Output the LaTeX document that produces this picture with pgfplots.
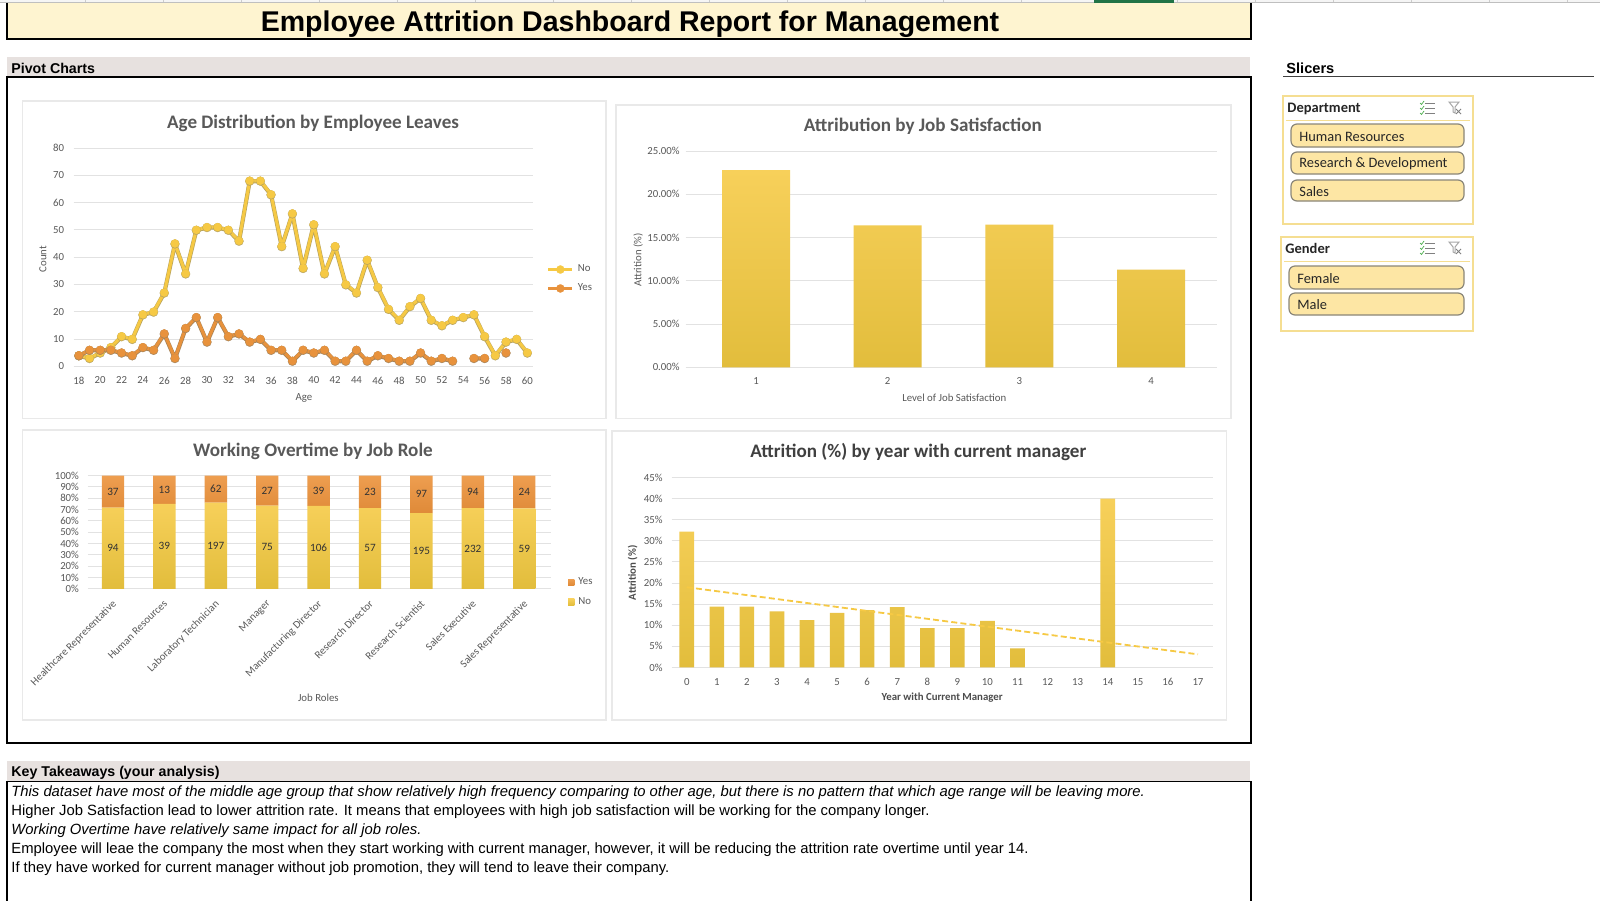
\documentclass[border=0pt]{standalone}
\usepackage{fontspec}
\usepackage{pgfplots}
\usepackage{pgfplotstable}
\pgfplotsset{compat=1.18}
\setmainfont{Carlito}
\newfontfamily\arial{Liberation Sans}
\newcommand{\fs}[1]{\fontsize{#1}{#1}\selectfont}
\definecolor{txt}{HTML}{595959}
\definecolor{ylw}{HTML}{F6C944}
\definecolor{org}{HTML}{E8923C}
\definecolor{ylws}{HTML}{B9A45E}
\definecolor{orgs}{HTML}{A88458}
\definecolor{gridc}{HTML}{E2E2E2}
\definecolor{framec}{HTML}{E9E9E9}
\definecolor{strip}{HTML}{E7E1DF}
\definecolor{banner}{HTML}{FEF4D0}
\definecolor{slb}{HTML}{F5DE92}
\definecolor{slf}{HTML}{FDE6A4}
\definecolor{slg}{HTML}{8A8678}
\definecolor{xlgreen}{HTML}{217346}
\pgfplotstableread{
age no yes
18 4 4
19 3 6
20 5 6
21 7 6
22 11 5
23 10 4
24 19 7
25 20 6
26 27 12
27 45 3
28 34 14
29 50 18
30 51 9
31 51 18
32 50 11
33 46 12
34 68 9
35 68 10
36 63 6
37 44 6
38 56 2
39 36 6
40 52 5
41 34 6
42 44 2
43 30 2
44 27 6
45 39 2
46 29 4
47 21 3
48 17 2
49 22 2
50 25 5
51 17 2
52 15 3
53 17 2
54 18 nan
55 19 3
56 11 3
57 4 nan
58 9 5
59 10 nan
60 5 nan
}\agetable
\pgfplotstableread{
x no yes
0 71.76 28.24
1 75.00 25.00
2 76.06 23.94
3 73.53 26.47
4 73.10 26.90
5 71.25 28.75
6 66.78 33.22
7 71.17 28.83
8 71.08 28.92
}\roletable
\pgfplotstableread{
x y c
0 35.88 94
1 37.50 39
2 38.03 197
3 36.77 75
4 36.55 106
5 35.63 57
6 33.39 195
7 35.59 232
8 35.54 59
0 85.88 37
1 87.50 13
2 88.03 62
3 86.77 27
4 86.55 39
5 85.63 23
6 83.39 97
7 85.59 94
8 85.54 24
}\rolelabels
\pgfplotsset{
  dash/.style={
    scale only axis, axis line style={draw=none},
    major tick length=0pt, ymajorgrids,
    grid style={gridc,line width=0.5pt},
    /pgf/number format/assume math mode=true,
    tick label style={font=\fs{5.4},text=txt},
    every axis title shift=0pt,
    title style={font=\bfseries\fs{9.55},text=txt,anchor=center},
    label style={font=\fs{5.4},text=txt,anchor=center},
  },
  ybar fill/.style={draw=none,top color=ylwt,middle color=ylwm,bottom color=ylwb},
}
\definecolor{ylwt}{HTML}{F7D05A}
\definecolor{ylwm}{HTML}{F9CF48}
\definecolor{ylwb}{HTML}{E2BD3C}
\definecolor{orgt}{HTML}{EE9E50}
\definecolor{orgb}{HTML}{DF8A38}
\begin{document}
\begin{tikzpicture}[x=0.5pt,y=-0.5pt]
\path[use as bounding box] (0,0) rectangle (1600,900);
\fill[white] (0,0) rectangle (1600,900);
% sheet header
\fill[gray!8] (0,0) rectangle (1600,2);
\draw[gray!50,line width=0.4pt] (0,2.2)--(1600,2.2);
\foreach \k in {0,...,19}{\draw[gray!40,line width=0.3pt] ({85.4+78*\k},0)--({85.4+78*\k},2);}
\fill[xlgreen] (1094,0) rectangle (1174,3);
% banner
\fill[banner] (7,3) rectangle (1251,39);
\draw[black,line width=0.6pt] (7,3)--(7,39)--(1251,39)--(1251,3);
\node[anchor=center,font=\arial\bfseries\fs{14.26}] at (630,24) {Employee Attrition Dashboard Report for Management};
% pivot section
\fill[strip] (7,57) rectangle (1250,76);
\node[anchor=west,inner sep=0pt,font=\arial\bfseries\fs{7.1}] at (11,68) {Pivot Charts};
\draw[black,line width=0.8pt] (7,77) rectangle (1251,743);
% key takeaways
\fill[strip] (7,761) rectangle (1250,781);
\node[anchor=west,inner sep=0pt,font=\arial\bfseries\fs{7.1}] at (11,773) {Key Takeaways (your analysis)};
\draw[black,line width=0.8pt] (7,781.5) rectangle (1251,905);
\begin{scope}[every node/.style={anchor=west,inner sep=0pt,font=\arial\fs{7.41}}]
\node at (11,793) {\itshape This dataset have most of the middle age group that show relatively high frequency comparing to other age, but there is no pattern that which age range will be leaving more.};
\node at (11,812) {Higher Job Satisfaction lead to lower attrition rate. It means that employees with high job satisfaction will be working for the company longer.};
\node at (11,831) {\itshape Working Overtime have relatively same impact for all job roles.};
\node at (11,850) {Employee will leae the company the most when they start working with current manager, however, it will be reducing the attrition rate overtime until year 14.};
\node at (11,869) {If they have worked for current manager without job promotion, they will tend to leave their company.};
\end{scope}
% slicers
\node[anchor=west,inner sep=0pt,font=\arial\bfseries\fs{7.3}] at (1286,68) {Slicers};
\draw[black!75,line width=0.7pt] (1283,76.5)--(1594,76.5);
\newcommand{\slbutton}[4]{%
 \filldraw[fill=slf,draw=slg,line width=0.6pt,rounded corners=3pt] (#1,#2) rectangle (1464,#3);
 \node[anchor=west,inner sep=0pt,font=\fs{7.2},text=black!85] at (#1+8,{(#2+#3)/2+1}) {#4};}
\newcommand{\slicon}[1]{%
 \begin{scope}[shift={(0,#1)}]
 \draw[gray,line width=0.4pt] (1425,-5)--(1435,-5) (1425,0)--(1435,0) (1425,5)--(1435,5);
 \draw[green!55!black!70,line width=0.35pt] (1420,-5)--(1421.5,-3.5)--(1424,-7) (1420,0)--(1421.5,1.5)--(1424,-2) (1420,5)--(1421.5,6.5)--(1424,3);
 \draw[gray!70,line width=0.5pt] (1449,-6)--(1459,-6)--(1455,-1)--(1455,5)--(1453,4)--(1453,-1)--cycle;
 \draw[gray,line width=0.5pt] (1456,1)--(1461,6) (1461,1)--(1456,6);
 \end{scope}}
\draw[slb,line width=0.6pt] (1283,96) rectangle (1473,224);
\node[anchor=west,inner sep=0pt,font=\bfseries\fs{7.25},text=black!85] at (1287,109) {Department};
\slicon{108}
\draw[slb,line width=0.5pt] (1286,120)--(1470,120);
\slbutton{1291}{124}{147}{Human Resources}
\slbutton{1291}{152}{174}{Research \& Development}
\slbutton{1291}{180}{201}{Sales}
\draw[slb,line width=0.6pt] (1281,237) rectangle (1473,331);
\node[anchor=west,inner sep=0pt,font=\bfseries\fs{7.25},text=black!85] at (1285,248) {Gender};
\slicon{248}
\draw[slb,line width=0.5pt] (1284,261)--(1470,261);
\slbutton{1289}{266}{289}{Female}
\slbutton{1289}{293}{315}{Male}
% chart frames
\draw[framec,line width=0.7pt] (22.5,101) rectangle (606,418.5);
\draw[framec,line width=0.7pt] (616,105) rectangle (1231,418.5);
\draw[framec,line width=0.7pt] (22.5,430) rectangle (606,720);
\draw[framec,line width=0.7pt] (612,431) rectangle (1226.5,720);

% ---- chart 1
\begin{axis}[dash,at={(36.75pt,-183.15pt)},anchor=south west,width=229.6pt,height=109.15pt,
  xmin=17.5,xmax=60.5,ymin=0,ymax=80,
  xtick={18,20,...,60},ytick={0,10,...,80},
  title={Age Distribution by Employee Leaves},
  title style={at={(axis description cs:0.5216,1.112)}},
  xlabel={Age},xlabel style={at={(axis description cs:0.502,-0.145)}},
  ylabel={Count},ylabel style={at={(axis description cs:-0.0666,0.4915)}},
  xticklabel style={yshift=-1.7pt},yticklabel style={xshift=-1.2pt},
  unbounded coords=jump,
  legend style={at={(1.03,0.40)},anchor=west,draw=none,fill=none,font=\fs{5.4},text=txt,
     inner sep=0pt,row sep=0.5pt,/tikz/every even column/.append style={column sep=1pt}},
  legend cell align=left,
  legend image code/.code={\draw[#1,mark repeat=2,mark phase=2] plot coordinates {(0pt,0pt)(6pt,0pt)(12pt,0pt)};},
]
\addplot[forget plot,ylws,line width=2.1pt,line join=round,mark=*,mark size=2.25pt,mark options={line width=0.1pt,draw=ylws,fill=ylws},yshift=-0.2pt] table[x=age,y=no] {\agetable};
\addplot[ylw,line width=1.5pt,line join=round,mark=*,mark size=2.05pt,mark options={line width=0.1pt,draw=ylw,fill=ylw}] table[x=age,y=no] {\agetable};
\addlegendentry{No}
\addplot[forget plot,orgs,line width=2.1pt,line join=round,mark=*,mark size=2.25pt,mark options={line width=0.1pt,draw=orgs,fill=orgs},yshift=-0.2pt] table[x=age,y=yes] {\agetable};
\addplot[org,line width=1.5pt,line join=round,mark=*,mark size=2.05pt,mark options={line width=0.1pt,draw=org,fill=org}] table[x=age,y=yes] {\agetable};
\addlegendentry{Yes}
\end{axis}

% ---- chart 2
\begin{axis}[dash,at={(342.85pt,-183.65pt)},anchor=south west,width=265.8pt,height=108.15pt,
  xmin=0.466,xmax=4.503,ymin=0,ymax=25,
  xtick={1,2,3,4},ytick={0,5,10,15,20,25},
  yticklabels={0.00\%,5.00\%,10.00\%,15.00\%,20.00\%,25.00\%},
  title={Attribution by Job Satisfaction},
  title style={at={(axis description cs:0.446,1.113)}},
  xlabel={Level of Job Satisfaction},xlabel style={at={(axis description cs:0.5052,-0.141)}},
  ylabel={Attrition (\%)},ylabel style={at={(axis description cs:-0.0895,0.4957)}},
  xticklabel style={yshift=-1.7pt},yticklabel style={xshift=0.5pt},
]
\addplot[ybar,bar width=34pt,ybar fill] coordinates {(1,22.8)(2,16.4)(3,16.5)(4,11.3)};
\end{axis}

% ---- chart 3
\begin{axis}[dash,at={(44pt,-294.4pt)},anchor=south west,width=231.5pt,height=56.65pt,
  ybar stacked,bar width=11.2pt,
  xmin=-0.486,xmax=8.52,ymin=0,ymax=100,
  xtick={0,...,8},ytick={0,10,...,100},
  yticklabel={\pgfmathprintnumber{\tick}\%},
  yticklabel style={xshift=-1pt},
  xticklabels={Healthcare Representative,Human Resources,Laboratory Technician,Manager,Manufacturing Director,Research Director,Research Scientist,Sales Executive,Sales Representative},
  xticklabel style={rotate=45,anchor=north east,inner sep=1pt,yshift=-2pt,xshift=-3.05pt},
  title={Working Overtime by Job Role},
  title style={at={(axis description cs:0.486,1.216)}},
  xlabel={Job Roles},xlabel style={at={(axis description cs:0.4975,-0.965)}},
  legend style={at={(1.036,-0.03)},anchor=west,draw=none,fill=none,font=\fs{5.4},text=txt,
     inner sep=0pt,row sep=1pt},
  legend cell align=left,reverse legend,
  legend image code/.code={\fill[#1] (0pt,-1.6pt) rectangle (3.2pt,1.6pt);},
]
\addplot[ybar fill] table[x=x,y=no] {\roletable};
\addlegendentry{No}
\addplot[draw=none,top color=orgt,bottom color=orgb] table[x=x,y=yes] {\roletable};
\addlegendentry{Yes}
\end{axis}
\begin{axis}[at={(44pt,-294.4pt)},anchor=south west,scale only axis,width=231.5pt,height=56.65pt,
  xmin=-0.486,xmax=8.52,ymin=0,ymax=100,hide axis,clip=false]
\addplot[only marks,mark=none,nodes near coords,point meta=explicit symbolic,
  every node near coord/.append style={anchor=center,font=\fs{5.6},text=black!80,inner sep=0pt}]
  table[x=x,y=y,meta=c] {\rolelabels};
\end{axis}

% ---- chart 4
\begin{axis}[dash,at={(335.85pt,-333.7pt)},anchor=south west,width=270.65pt,height=94.95pt,
  xmin=-0.5,xmax=17.5,ymin=0,ymax=45,
  xtick={0,...,17},ytick={0,5,...,45},
  yticklabel={\pgfmathprintnumber{\tick}\%},
  title={Attrition (\%) by year with current manager},
  title style={at={(axis description cs:0.4556,1.134)},text=black!75},
  xlabel={\bfseries Year with Current Manager},xlabel style={at={(axis description cs:0.4995,-0.1612)},text=black!70},
  ylabel={\bfseries Attrition (\%)},ylabel style={at={(axis description cs:-0.072,0.4982)},text=black!70},
  xticklabel style={yshift=-2pt},yticklabel style={xshift=-1pt},
]
\addplot[ybar,bar width=7.3pt,ybar fill] coordinates {(0,32.2)(1,14.4)(2,14.4)(3,13.3)(4,11.2)(5,12.9)(6,13.6)(7,14.3)(8,9.3)(9,9.3)(10,11)(11,4.5)(14,40)};
\addplot[ylw,line width=0.9pt,dash pattern=on 3pt off 1.6pt,mark=none] coordinates {(0,19)(17,3.1)};
\end{axis}
\end{tikzpicture}
\end{document}
